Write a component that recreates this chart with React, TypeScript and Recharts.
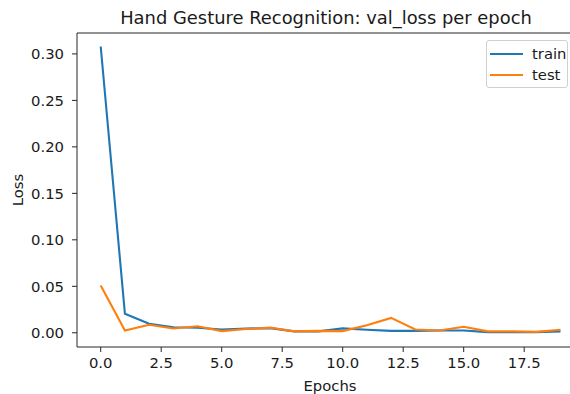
import React from 'react';
import { LineChart, Line, XAxis, YAxis, Legend, ReferenceLine } from 'recharts';

const epochs = [0, 1, 2, 3, 4, 5, 6, 7, 8, 9, 10, 11, 12, 13, 14, 15, 16, 17, 18, 19];
const trainLoss = [0.308, 0.0204, 0.0097, 0.006, 0.0054, 0.0035, 0.0045, 0.005, 0.0015, 0.0015, 0.0047, 0.0032, 0.002, 0.002, 0.0025, 0.0025, 0.0007, 0.0007, 0.0007, 0.0015];
const testLoss = [0.0509, 0.0025, 0.0086, 0.0046, 0.007, 0.0018, 0.004, 0.0055, 0.0015, 0.002, 0.0018, 0.008, 0.016, 0.0036, 0.0025, 0.0065, 0.0015, 0.0015, 0.001, 0.0032];
const seriesNames = ['train', 'test'];
const xTicks = [0, 2.5, 5, 7.5, 10, 12.5, 15, 17.5];
const yTicks = [0, 0.05, 0.1, 0.15, 0.2, 0.25, 0.3];

const data = epochs.map((e, i) => ({ epoch: e, train: trainLoss[i], test: testLoss[i] }));

const Y_DOMAIN: [number, number] = [-0.0153, 0.3225];
const X_DOMAIN: [number, number] = [-0.98, 19.93];

const FONT = '"DejaVu Sans", sans-serif';
const FS = 14.8;
const TXT = '#1a1a1a';
const AX = '#262626';

const LegendBox = (props: any) => {
  const items = [...(props.payload || [])].sort(
    (a: any, b: any) => seriesNames.indexOf(a.value) - seriesNames.indexOf(b.value)
  );
  return (
    <div
      style={{
        background: '#fff',
        border: '1px solid #d0d0d0',
        borderRadius: 3,
        width: 82,
        height: 48,
        boxSizing: 'border-box',
        paddingTop: 3,
        fontFamily: FONT,
        fontSize: FS,
        color: TXT,
      }}
    >
      {items.map((it: any) => (
        <div key={it.value} style={{ display: 'flex', alignItems: 'center', height: 20.5 }}>
          <svg width={45} height={10} style={{ display: 'block' }}>
            <line x1={3} x2={36} y1={5} y2={5} stroke={it.color} strokeWidth={2.1} />
          </svg>
          <span style={{ lineHeight: '16px', marginLeft: 0 }}>{it.value}</span>
        </div>
      ))}
    </div>
  );
};

export default function App() {
  return (
    <div style={{ position: 'absolute', left: 0, top: 0, width: 570, height: 394, overflow: 'hidden', background: '#fff' }}>
      <div
        style={{
          position: 'absolute',
          left: 0,
          top: 7,
          width: 652,
          textAlign: 'center',
          fontFamily: FONT,
          fontSize: 17.9,
          lineHeight: '21px',
          color: TXT,
          whiteSpace: 'nowrap',
        }}
      >
        Hand Gesture Recognition: val_loss per epoch
      </div>
      <LineChart width={600} height={394} data={data} margin={{ top: 33, right: 17, bottom: 0, left: 0 }}>
        <XAxis
          dataKey="epoch"
          type="number"
          domain={X_DOMAIN}
          ticks={xTicks}
          allowDataOverflow
          interval={0}
          tickFormatter={(v: number) => v.toFixed(1)}
          height={47}
          tickSize={5}
          tickMargin={5}
          stroke={AX}
          tick={{ fill: TXT, fontSize: FS, fontFamily: FONT }}
          label={{
            content: (p: any) => {
              const vb = p.viewBox || {};
              return (
                <text
                  x={vb.x + vb.width / 2}
                  y={385}
                  textAnchor="middle"
                  dominantBaseline="central"
                  fontSize={FS}
                  fontFamily={FONT}
                  fill={TXT}
                >
                  Epochs
                </text>
              );
            },
          }}
        />
        <YAxis
          type="number"
          domain={Y_DOMAIN}
          ticks={yTicks}
          allowDataOverflow
          interval={0}
          tickFormatter={(v: number) => v.toFixed(2)}
          width={77}
          tickSize={5}
          tickMargin={8}
          stroke={AX}
          tick={{ fill: TXT, fontSize: FS, fontFamily: FONT }}
          label={{
            content: (p: any) => {
              const vb = p.viewBox || {};
              const cy = vb.y + vb.height / 2;
              return (
                <text
                  x={17}
                  y={cy}
                  transform={`rotate(-90 17 ${cy})`}
                  textAnchor="middle"
                  dominantBaseline="central"
                  fontSize={FS}
                  fontFamily={FONT}
                  fill={TXT}
                >
                  Loss
                </text>
              );
            },
          }}
        />
        <ReferenceLine y={Y_DOMAIN[1]} stroke={AX} strokeWidth={1} ifOverflow="extendDomain" />
        <Legend
          layout="vertical"
          align="center"
          verticalAlign="middle"
          content={<LegendBox />}
          wrapperStyle={{ position: 'absolute', left: 486, top: 40, width: 82, height: 48 }}
        />
        <Line
          type="linear"
          dataKey="train"
          name="train"
          stroke="#1f77b4"
          strokeWidth={2.1}
          dot={false}
          activeDot={false}
          isAnimationActive={false}
        />
        <Line
          type="linear"
          dataKey="test"
          name="test"
          stroke="#ff7f0e"
          strokeWidth={2.1}
          dot={false}
          activeDot={false}
          isAnimationActive={false}
        />
      </LineChart>
    </div>
  );
}
